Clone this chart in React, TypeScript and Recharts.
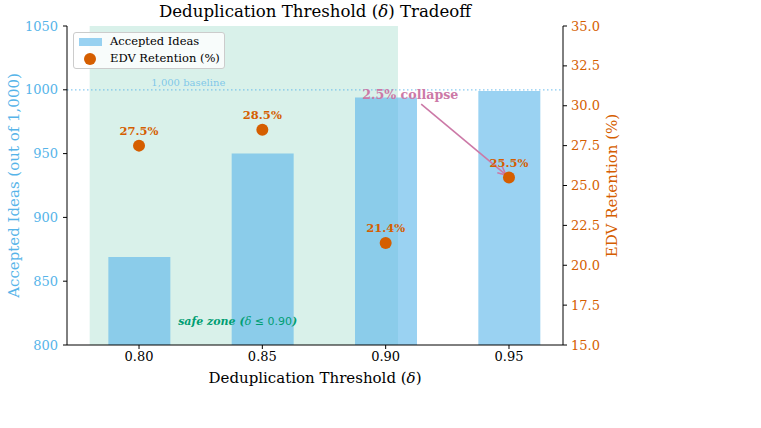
import React from 'react';
import {
  ComposedChart, Bar, Scatter, XAxis, YAxis, ReferenceArea, ReferenceLine, ReferenceDot, Label,
} from 'recharts';

const thresholds = [0.8, 0.85, 0.9, 0.95];
const acceptedIdeas = [869, 950, 994, 999];
const edvRetention = [27.5, 28.5, 21.4, 25.5];
const leftTicks = [800, 850, 900, 950, 1000, 1050];
const rightTicks = [15, 17.5, 20, 22.5, 25, 27.5, 30, 32.5, 35];

const data = thresholds.map((t, i) => ({ t, accepted: acceptedIdeas[i], edv: edvRetention[i] }));

const BLUE = '#56B4E9';
const ORANGE = '#D55E00';
const PINK = '#CC79A7';
const GREEN = '#009E73';
const FONT = 'DejaVu Serif';

const PointShape = (props: any) => {
  const { cx, cy, payload } = props;
  return (
    <g>
      <circle cx={cx} cy={cy} r={6} fill={ORANGE} />
      <text x={cx} y={cy - 11} textAnchor="middle" fontFamily={FONT} fontSize={11.5} fontWeight="bold" fill={ORANGE}>
        {payload.edv.toFixed(1)}%
      </text>
    </g>
  );
};

const ArrowShape = (props: any) => {
  const { x1, y1, x2, y2 } = props;
  const ang = Math.atan2(y2 - y1, x2 - x1);
  const L = 9;
  const a1 = ang + Math.PI - 0.45;
  const a2 = ang + Math.PI + 0.45;
  return (
    <g>
      <line x1={x1} y1={y1} x2={x2} y2={y2} stroke={PINK} strokeWidth={1.6} />
      <polyline
        points={`${x2 + L * Math.cos(a1)},${y2 + L * Math.sin(a1)} ${x2},${y2} ${x2 + L * Math.cos(a2)},${y2 + L * Math.sin(a2)}`}
        fill="none" stroke={PINK} strokeWidth={1.6}
      />
    </g>
  );
};

const TextShape = (content: React.ReactNode, style: any) => (props: any) => (
  <text x={props.cx} y={props.cy} textAnchor="middle" dominantBaseline="central" fontFamily={FONT} {...style}>
    {content}
  </text>
);

export default function App() {
  return (
    <div style={{ position: 'absolute', left: 0, top: 0, width: 761, height: 428, background: '#fff' }}>
      <div style={{ position: 'absolute', left: 0, width: 630, top: 2, textAlign: 'center', fontFamily: FONT, fontSize: 16.6, color: '#000' }}>
        Deduplication Threshold (<i>δ</i>) Tradeoff
      </div>
      <ComposedChart width={761} height={428} data={data} margin={{ top: 26, right: 138, bottom: 53, left: 0 }}>
        <XAxis
          dataKey="t" type="number" domain={[0.7708, 0.9719]} ticks={thresholds} allowDataOverflow
          tickFormatter={(v: number) => v.toFixed(2)} stroke="#000" tickSize={4} tickMargin={3}
          tick={{ fill: '#000', fontFamily: FONT, fontSize: 13 }} height={30}
        >
          <Label content={(p: any) => (
            <text x={p.viewBox.x + p.viewBox.width / 2} y={383} textAnchor="middle" fontFamily={FONT} fontSize={15} fill="#000">
              Deduplication Threshold (<tspan fontStyle="italic">δ</tspan>)
            </text>
          )} />
        </XAxis>
        <YAxis
          yAxisId="left" domain={[800, 1050]} ticks={leftTicks} width={67} stroke="#000" tickSize={4} tickMargin={5}
          tick={{ fill: BLUE, fontFamily: FONT, fontSize: 13 }} allowDataOverflow
        >
          <Label content={(p: any) => (
            <text x={14} y={p.viewBox.y + p.viewBox.height / 2} transform={`rotate(-90 14 ${p.viewBox.y + p.viewBox.height / 2})`}
              textAnchor="middle" dominantBaseline="central" fontFamily={FONT} fontSize={15} fill={BLUE}>
              Accepted Ideas (out of 1,000)
            </text>
          )} />
        </YAxis>
        <YAxis
          yAxisId="right" orientation="right" domain={[15, 35]} ticks={rightTicks} width={60} stroke="#000" tickSize={4} tickMargin={4}
          tickFormatter={(v: number) => v.toFixed(1)}
          tick={{ fill: ORANGE, fontFamily: FONT, fontSize: 13 }} allowDataOverflow
        >
          <Label content={(p: any) => (
            <text x={612} y={p.viewBox.y + p.viewBox.height / 2} transform={`rotate(-90 612 ${p.viewBox.y + p.viewBox.height / 2})`}
              textAnchor="middle" dominantBaseline="central" fontFamily={FONT} fontSize={15} fill={ORANGE}>
              EDV Retention (%)
            </text>
          )} />
        </YAxis>
        <ReferenceArea yAxisId="left" x1={0.78} x2={0.905} y1={800} y2={1050} fill={GREEN} fillOpacity={0.15} stroke="none" />
        <ReferenceLine yAxisId="left" y={1000} stroke={BLUE} strokeOpacity={0.7} strokeDasharray="1.5 2.5" strokeWidth={1.3} />
        <Bar yAxisId="left" dataKey="accepted" barSize={62} fill={BLUE} fillOpacity={0.6} isAnimationActive={false} />
        <Scatter yAxisId="right" dataKey="edv" shape={PointShape} isAnimationActive={false} />
        <ReferenceDot yAxisId="left" x={0.82} y={1005.5} r={0}
          shape={TextShape('1,000 baseline', { fontSize: 10, fill: BLUE, fillOpacity: 0.7 })} />
        <ReferenceDot yAxisId="left" x={0.84} y={819} r={0}
          shape={TextShape(
            <>
              <tspan fontWeight="bold" fontStyle="italic">safe zone (</tspan>
              <tspan fontStyle="italic">δ</tspan>
              <tspan fontFamily="DejaVu Sans"> ≤ 0.90</tspan>
              <tspan fontWeight="bold" fontStyle="italic">)</tspan>
            </>,
            { fontSize: 11, fill: GREEN })} />
        <ReferenceDot yAxisId="left" x={0.91} y={996.5} r={0}
          shape={TextShape('2.5% collapse', { fontSize: 12.6, fontWeight: 'bold', fill: PINK })} />
        <ReferenceLine yAxisId="right" segment={[{ x: 0.9144, y: 30.1 }, { x: 0.9488, y: 25.66 }]} shape={ArrowShape} />
      </ComposedChart>
      <div style={{
        position: 'absolute', left: 73, top: 32, width: 150, height: 35, border: '1px solid #ccc', borderRadius: 3,
        background: 'rgba(255,255,255,0.8)', fontFamily: FONT, fontSize: 11.5, color: '#000',
      }}>
        <div style={{ position: 'absolute', left: 5, top: 5, width: 23, height: 8, background: BLUE, opacity: 0.6 }} />
        <div style={{ position: 'absolute', left: 36, top: 2, lineHeight: '13px' }}>Accepted Ideas</div>
        <div style={{ position: 'absolute', left: 10, top: 20, width: 12, height: 12, borderRadius: 6, background: ORANGE }} />
        <div style={{ position: 'absolute', left: 36, top: 19, lineHeight: '13px' }}>EDV Retention (%)</div>
      </div>
    </div>
  );
}
